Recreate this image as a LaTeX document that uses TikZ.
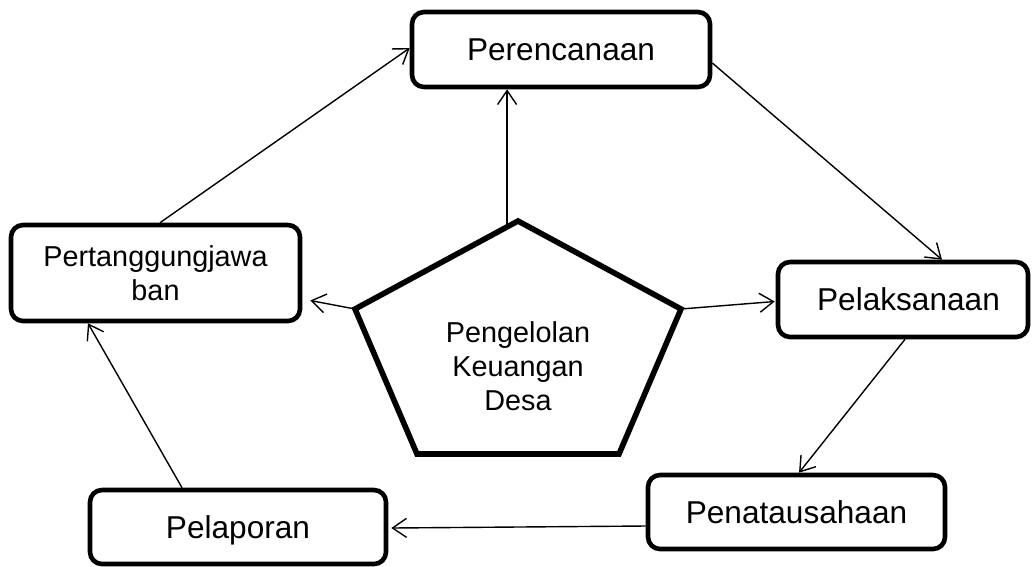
\documentclass[tikz,border=0pt]{standalone}
\usepackage{fontspec}
\setmainfont{Liberation Sans}
\usetikzlibrary{arrows.meta,calc}
\tikzset{
  box/.style={draw, line width=4.6pt, rounded corners=12pt, inner sep=0pt, align=center,
    font=\fontsize{31.6pt}{38pt}\selectfont},
  oneline/.style={text height=22.6pt, text depth=0pt},
  conn/.style={line width=1.4pt, -{Straight Barb[length=14pt,width=19pt,line width=1.4pt]}},
  penta/.style={line width=5.6pt, line join=miter}
}
\begin{document}
\begin{tikzpicture}[x=1pt,y=-1pt]
\useasboundingbox (0,0) rectangle (1032,566);
% boxes
\node[box,oneline,minimum width=298pt,minimum height=75pt] (per) at (561,49.5) {Perencanaan};
\node[box,oneline,minimum width=250pt,minimum height=75pt] (pel) at (903,299.5) {\hspace*{11pt}Pelaksanaan};
\node[box,oneline,minimum width=297pt,minimum height=74pt] (pen) at (796.5,512) {Penatausahaan};
\node[box,oneline,minimum width=296pt,minimum height=74pt] (lap) at (238,527) {Pelaporan};
\node[box,minimum width=289pt,minimum height=96pt,font=\fontsize{28.8pt}{34pt}\selectfont] (ptj) at (155.5,273) {Pertanggungjawa\\ban};
% pentagon
\coordinate (pt) at (518,221);
\coordinate (pl) at (355,309);
\coordinate (pr) at (681,309);
\coordinate (pbl) at (417,454);
\coordinate (pbr) at (619,454);
\draw[penta] (pt) -- (pr) -- (pbr) -- (pbl) -- (pl) -- cycle;
\node[align=center,inner sep=0pt,font=\fontsize{28.8pt}{34pt}\selectfont] (pk) at (518,366.5) {Pengelolan\\Keuangan\\Desa};
\coordinate (ptop) at ($(pt)!0.067!(pl)$);
% cycle connectors
\draw[conn] ([xshift=4.5pt]ptj.north) -- ([yshift=1.5pt]per.west);
\draw[conn] ([yshift=-13.5pt]per.east) -- ([xshift=39pt]pel.north);
\draw[conn] ([xshift=2pt]pel.south) -- ([xshift=2.5pt]pen.north);
\draw[conn] ([yshift=-14pt]pen.west) -- ([xshift=3pt,yshift=-1pt]lap.east);
\draw[conn] ([xshift=-56pt]lap.north) -- ([xshift=-67.5pt]ptj.south);
% from centre
\draw[conn] (ptop) -- (ptop |- per.south);
\draw[conn] (pl) -- ([xshift=8pt,yshift=-27.5pt]ptj.east);
\draw[conn] (pr) -- ([xshift=-1pt,yshift=-2pt]pel.west);
\end{tikzpicture}
\end{document}
